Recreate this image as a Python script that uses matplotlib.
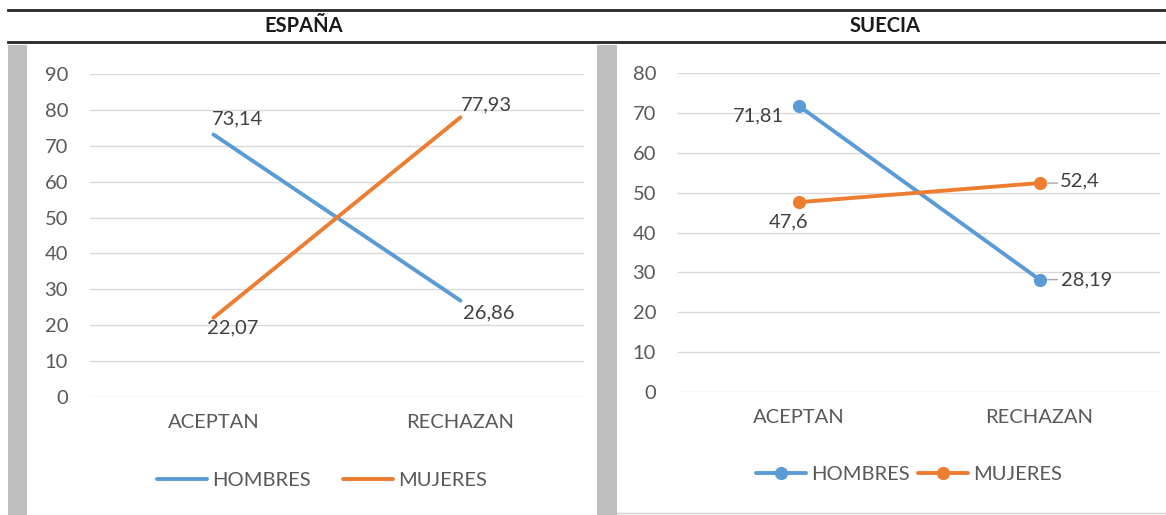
import matplotlib
matplotlib.use("Agg")
import matplotlib.pyplot as plt
from matplotlib.lines import Line2D
from matplotlib.patches import Rectangle

plt.rcParams['font.family'] = ['Lato', 'DejaVu Sans']

categories = ["ACEPTAN", "RECHAZAN"]
espana_hombres = [73.14, 26.86]
espana_mujeres = [22.07, 77.93]
suecia_hombres = [71.81, 28.19]
suecia_mujeres = [47.6, 52.4]
espana_labels_h = ["73,14", "26,86"]
espana_labels_m = ["22,07", "77,93"]
suecia_labels_h = ["71,81", "28,19"]
suecia_labels_m = ["47,6", "52,4"]
titles = ["ESPAÑA", "SUECIA"]

BLUE = "#5B9BD5"
ORANGE = "#ED7D31"
TICK = "#595959"
LABEL = "#404040"
GRID = "#D9D9D9"
FS = 14.5

W, H = 1166, 515
fig = plt.figure(figsize=(W / 100, H / 100), dpi=100)


def fx(x):
    return x / W


def fy(y):
    return 1 - y / H


def px2pt(p):
    return p * 0.72


# header lines and titles
for yy in (10, 42):
    fig.add_artist(Line2D([fx(8), fx(1166)], [fy(yy), fy(yy)], color="#262626", lw=2.0))
fig.text(fx(304), fy(26), titles[0], ha="center", va="center", fontsize=14.5, fontweight="bold", color="#1a1a1a")
fig.text(fx(885), fy(26), titles[1], ha="center", va="center", fontsize=14.5, fontweight="bold", color="#1a1a1a")

# grey side bars
fig.add_artist(Rectangle((fx(8), 0), fx(27) - fx(8), fy(45), color="#BFBFBF", lw=0))
fig.add_artist(Rectangle((fx(597), 0), fx(617) - fx(597), fy(45), color="#BFBFBF", lw=0))
fig.add_artist(Line2D([fx(617), fx(1166)], [fy(513), fy(513)], color="#D0D0D0", lw=1.0))


def make_axes(x0, x1, ytop, ybot, ymax):
    ax = fig.add_axes([fx(x0), fy(ybot), fx(x1) - fx(x0), fy(ytop) - fy(ybot)])
    ax.set_xlim(-0.5, 1.5)
    ax.set_ylim(0, ymax)
    ax.set_yticks(range(0, ymax + 1, 10))
    ax.set_xticks([0, 1])
    ax.set_xticklabels(categories)
    for s in ax.spines.values():
        s.set_visible(False)
    ax.grid(axis="y", color=GRID, lw=1.0)
    ax.set_axisbelow(True)
    ax.tick_params(axis="both", length=0, labelsize=FS, labelcolor=TICK)
    ax.tick_params(axis="y", pad=px2pt(22))
    ax.tick_params(axis="x", pad=px2pt(17))
    ax.patch.set_alpha(0)
    return ax


# ---- ESPAÑA ----
ax1 = make_axes(90, 584, 74, 397, 90)
ax1.plot([0, 1], espana_hombres, color=BLUE, lw=2.8, solid_capstyle="round", label="HOMBRES")
ax1.plot([0, 1], espana_mujeres, color=ORANGE, lw=2.8, solid_capstyle="round", label="MUJERES")
kw = dict(textcoords="offset points", fontsize=FS, color=LABEL)
ax1.annotate(espana_labels_h[0], (0, espana_hombres[0]), xytext=(px2pt(-2), px2pt(7)), ha="left", va="bottom", **kw)
ax1.annotate(espana_labels_h[1], (1, espana_hombres[1]), xytext=(px2pt(3), px2pt(-4)), ha="left", va="top", **kw)
ax1.annotate(espana_labels_m[0], (0, espana_mujeres[0]), xytext=(px2pt(-6), px2pt(-2)), ha="left", va="top", **kw)
ax1.annotate(espana_labels_m[1], (1, espana_mujeres[1]), xytext=(px2pt(0), px2pt(4)), ha="left", va="bottom", **kw)
leg1 = ax1.legend(loc="center", bbox_to_anchor=(fx(322), fy(480)), bbox_transform=fig.transFigure,
                  ncol=2, frameon=False, fontsize=FS, handlelength=2.5, handletextpad=0.25,
                  columnspacing=1.6, labelcolor=TICK)

# ---- SUECIA ----
ax2 = make_axes(678, 1160, 73, 392, 80)
ax2.plot([0, 1], suecia_hombres, color=BLUE, lw=2.8, marker="o", ms=8.5, solid_capstyle="round", label="HOMBRES")
ax2.plot([0, 1], suecia_mujeres, color=ORANGE, lw=2.8, marker="o", ms=8.5, solid_capstyle="round", label="MUJERES")
ax2.annotate(suecia_labels_h[0], (0, suecia_hombres[0]), xytext=(px2pt(-14), px2pt(-10)), ha="right", va="center", **kw)
ax2.annotate(suecia_labels_m[0], (0, suecia_mujeres[0]), xytext=(px2pt(-10), px2pt(-11)), ha="center", va="top", **kw)
ax2.annotate(suecia_labels_m[1], (1, suecia_mujeres[1]), xytext=(px2pt(20), px2pt(2)), ha="left", va="center", **kw)
ax2.annotate(suecia_labels_h[1], (1, suecia_hombres[1]), xytext=(px2pt(22), px2pt(0)), ha="left", va="center", **kw)
# leader lines
for yv in (suecia_mujeres[1], suecia_hombres[1]):
    ax2.annotate("", (1, yv), xytext=(px2pt(18), 0), textcoords="offset points",
                 arrowprops=dict(arrowstyle="-", color="#A6A6A6", lw=1.0, shrinkA=0, shrinkB=6))
leg2 = ax2.legend(loc="center", bbox_to_anchor=(fx(909), fy(474)), bbox_transform=fig.transFigure,
                  ncol=2, frameon=False, fontsize=FS, handlelength=2.5, handletextpad=0.25,
                  columnspacing=0.4, labelcolor=TICK)

fig.savefig("out.png", dpi=100)
